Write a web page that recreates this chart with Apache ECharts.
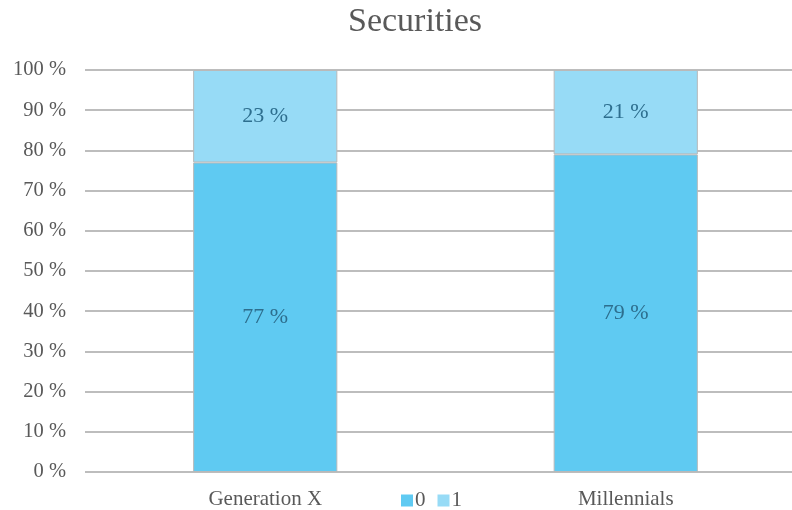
<!DOCTYPE html>
<html><head><meta charset="utf-8">
<script src="https://cdn.jsdelivr.net/npm/echarts@6/dist/echarts.min.js"></script>
<style>html,body{margin:0;padding:0;background:#fff;overflow:hidden}#c{width:806px;height:510px}</style>
</head><body><div id="c"></div>
<script>
const categories = ["Generation X", "Millennials"];
const seriesNames = ["0", "1"];
const values0 = [77, 79];
const values1 = [23, 21];
const yTicks = [0, 10, 20, 30, 40, 50, 60, 70, 80, 90, 100];

const chart = echarts.init(document.getElementById('c'), null, {renderer: 'canvas'});
const font = '"Liberation Serif", "Times New Roman", serif';
const labelStyle = {show: true, position: 'inside', formatter: p => p.value + ' %', color: '#2d6e8e', fontFamily: font, fontSize: 22};
chart.setOption({
  animation: false,
  title: {text: 'Securities', left: 343, top: 0, textStyle: {fontFamily: font, fontSize: 34, fontWeight: 'normal', color: '#595959'}},
  grid: {left: 85, right: 0, top: 70, bottom: 38, containLabel: false},
  legend: {data: seriesNames, bottom: -6, left: 396, itemWidth: 12, itemHeight: 12, itemGap: 12, icon: 'rect',
    itemStyle: {borderWidth: 0},
    textStyle: {fontFamily: font, fontSize: 21, color: '#595959', padding: [0, 0, 0, -3]}},
  xAxis: {type: 'category', data: categories, axisTick: {show: false},
    axisLine: {show: false},
    axisLabel: {fontFamily: font, fontSize: 21, color: '#595959', margin: 17}},
  yAxis: {type: 'value', min: 0, max: 100, interval: 10,
    axisLabel: {formatter: v => yTicks.includes(v) ? v + ' %' : '', fontFamily: font, fontSize: 20.5, color: '#595959', margin: 19},
    splitLine: {lineStyle: {color: '#bdbdbd', width: 2}}, axisLine: {show: false}, axisTick: {show: false}},
  series: [
    {name: seriesNames[0], type: 'bar', stack: 's', data: values0, barWidth: '40%',
     itemStyle: {color: '#5fcaf2', borderColor: '#b9b9b9', borderWidth: 1}, label: labelStyle},
    {name: seriesNames[1], type: 'bar', stack: 's', data: values1, barWidth: '40%',
     itemStyle: {color: '#97dbf6', borderColor: '#b9b9b9', borderWidth: 1}, label: labelStyle}
  ]
});
</script></body></html>
